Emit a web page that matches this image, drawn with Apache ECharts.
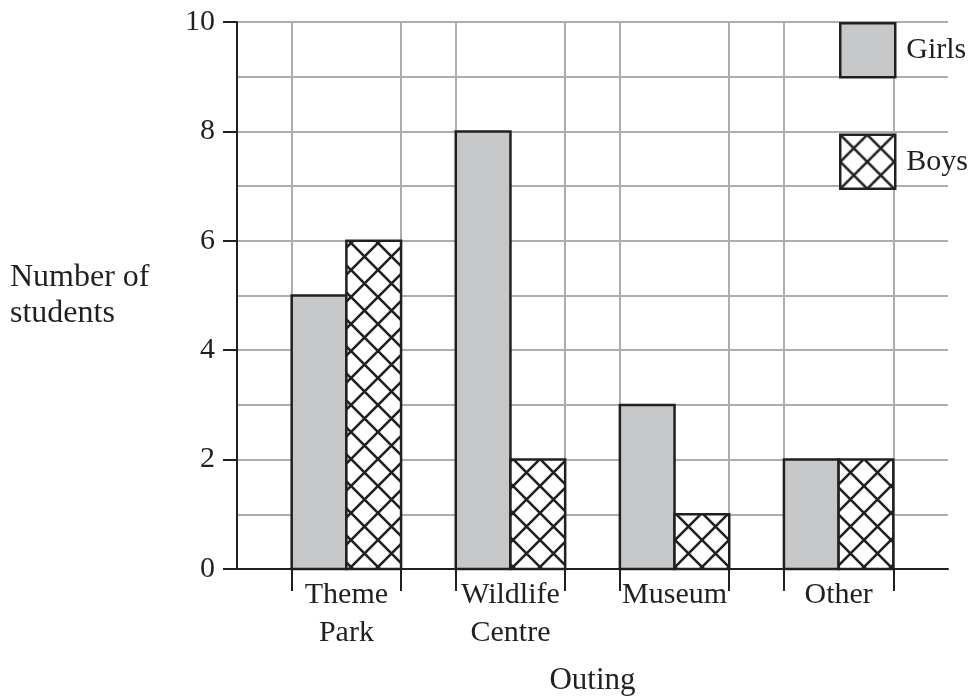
<!DOCTYPE html>
<html>
<head>
<meta charset="utf-8">
<script src="https://cdn.jsdelivr.net/npm/echarts@6/dist/echarts.min.js"></script>
<style>
  html, body { margin: 0; padding: 0; background: #fff; }
  #chart { width: 972px; height: 699px; }
</style>
</head>
<body>
<div id="chart"></div>
<script>
// 数据
var categories = ['Theme\nPark', 'Wildlife\nCentre', 'Museum', 'Other'];
var girls = [5, 8, 3, 2];
var boys = [6, 2, 1, 2];
var yTicks = [0, 2, 4, 6, 8, 10];

var FONT = '"Liberation Serif", "DejaVu Serif", serif';
var INK = '#231f20';
var GRID = '#adadad';

// 交叉斜线填充
function makeHatch() {
    var s = 27;
    var c = document.createElement('canvas');
    c.width = s;
    c.height = s;
    var ctx = c.getContext('2d');
    ctx.fillStyle = '#fff';
    ctx.fillRect(0, 0, s, s);
    ctx.strokeStyle = INK;
    ctx.lineWidth = 2.6;
    ctx.beginPath();
    ctx.moveTo(-3, -3); ctx.lineTo(s + 3, s + 3);
    ctx.moveTo(s + 3, -3); ctx.lineTo(-3, s + 3);
    ctx.stroke();
    return { image: c, repeat: 'repeat' };
}
var hatch = makeHatch();
var girlsFill = '#c6c7c9';

// 每个类别占两列，前面空一列
function toCells(arr, offset) {
    return arr.map(function (v, i) {
        return [1 + 3 * i + offset, v];
    });
}

function renderBar(fill) {
    return function (params, api) {
        var x = api.value(0), y = api.value(1);
        var p0 = api.coord([x, y]);
        var p1 = api.coord([x + 1, 0]);
        return {
            type: 'rect',
            shape: { x: p0[0], y: p0[1], width: p1[0] - p0[0], height: p1[1] - p0[1] },
            style: { fill: fill, stroke: INK, lineWidth: 2.5 }
        };
    };
}

var chart = echarts.init(document.getElementById('chart'), null, { renderer: 'canvas' });

var option = {
    backgroundColor: '#fff',
    animation: false,
    grid: {
        left: 237,
        right: 24,
        top: 22,
        bottom: 130,
        outerBoundsMode: 'none'
    },
    legend: {
        orient: 'vertical',
        left: 839,
        top: 22,
        padding: 0,
        itemWidth: 55,
        itemHeight: 54,
        itemGap: 55,
        icon: 'rect',
        selectedMode: false,
        textStyle: {
            fontFamily: FONT,
            fontSize: 30,
            color: INK,
            padding: [0, 0, 4, 6]
        },
        data: [{
            name: 'Girls',
            itemStyle: { color: girlsFill, borderColor: INK, borderWidth: 2.5 }
        }, {
            name: 'Boys',
            itemStyle: { color: hatch, borderColor: INK, borderWidth: 2.5 }
        }]
    },
    xAxis: {
        type: 'value',
        min: 0,
        max: 13,
        interval: 1,
        name: 'Outing',
        nameLocation: 'middle',
        nameGap: 112,
        nameTextStyle: {
            fontFamily: FONT,
            fontSize: 31,
            color: INK,
            verticalAlign: 'middle'
        },
        axisLine: { show: true, lineStyle: { color: INK, width: 2 } },
        axisTick: {
            show: true,
            length: 22,
            customValues: [1, 3, 4, 6, 7, 9, 10, 12],
            lineStyle: { color: INK, width: 2 }
        },
        axisLabel: {
            customValues: [2, 5, 8, 11],
            margin: 7,
            fontFamily: FONT,
            fontSize: 30,
            lineHeight: 38,
            color: INK,
            formatter: function (v) {
                return categories[Math.round((v - 2) / 3)];
            }
        },
        splitLine: { show: true, lineStyle: { color: GRID, width: 2 } }
    },
    yAxis: {
        type: 'value',
        min: 0,
        max: 10,
        interval: 2,
        name: 'Number of\nstudents',
        nameLocation: 'middle',
        nameRotate: 0,
        nameGap: 227,
        nameTextStyle: {
            fontFamily: FONT,
            fontSize: 32,
            lineHeight: 36,
            color: INK,
            align: 'left',
            verticalAlign: 'middle',
            padding: [6, 0, 0, 0]
        },
        axisLine: { show: true, lineStyle: { color: INK, width: 2 } },
        axisTick: { show: true, length: 14, lineStyle: { color: INK, width: 2 } },
        axisLabel: {
            margin: 22,
            fontFamily: FONT,
            fontSize: 30,
            color: INK,
            customValues: yTicks
        },
        splitLine: { show: true, lineStyle: { color: GRID, width: 2 } },
        minorTick: { show: false, splitNumber: 2 },
        minorSplitLine: { show: true, lineStyle: { color: GRID, width: 2 } }
    },
    series: [{
        name: 'Girls',
        type: 'custom',
        renderItem: renderBar(girlsFill),
        itemStyle: { color: girlsFill, borderColor: INK, borderWidth: 2.5 },
        encode: { x: 0, y: 1 },
        data: toCells(girls, 0),
        z: 3
    }, {
        name: 'Boys',
        type: 'custom',
        renderItem: renderBar(hatch),
        itemStyle: { color: hatch, borderColor: INK, borderWidth: 2.5 },
        encode: { x: 0, y: 1 },
        data: toCells(boys, 1),
        z: 3
    }]
};

chart.setOption(option);
</script>
</body>
</html>
